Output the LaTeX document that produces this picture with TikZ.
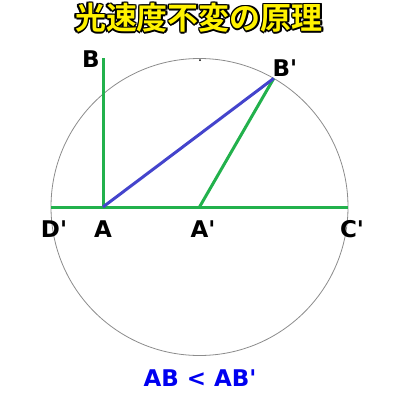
\documentclass[tikz,border=0pt]{standalone}
\usepackage{fontspec}
\setmainfont{DejaVu Sans}
\newfontfamily\jpfont{Noto Sans CJK JP}[BoldFont={* Bold}]
\usepackage{tikz}
\usetikzlibrary{positioning}
\usetikzlibrary{calc}
\usepackage{xcolor}
\definecolor{lgreen}{RGB}{34,177,76}
\definecolor{lblue}{RGB}{68,68,204}
\definecolor{tblue}{RGB}{0,0,240}
\definecolor{tyellow}{RGB}{255,242,0}
\newcommand\pr{\textquotesingle}
\newcommand\outlinetitle[2]{
  \foreach \dx/\dy in {-1.6/0,1.6/0,0/-1.6,0/1.6,-1.1/-1.1,1.1/1.1,-1.1/1.1,1.1/-1.1}{
    \node[black] at ([shift={(\dx,\dy)}]#1) {\jpfont\bfseries\fontsize{31}{31}\selectfont #2};
  }
  \node[tyellow] (title) at (#1) {\jpfont\bfseries\fontsize{31}{31}\selectfont #2};
}

\begin{document}
\begin{tikzpicture}[x=1pt, y=-1pt,
    lbl/.style={font=\bfseries\fontsize{23}{23}\selectfont, inner sep=0pt}]
				    		\useasboundingbox (0,0) rectangle (400,400);
				    		\coordinate (O) at (199.5,207);
				    		\coordinate (A) at (103,207);
				    		\coordinate (B) at (103,58);
				    		\coordinate (Bp) at ($(O)+(-60:148.5)$);
				    		\coordinate (Cp) at (348,207);
				    		\coordinate (Dp) at (51,207);
				    		\draw[gray!90, line width=0.8pt] (O) circle (148.5);
				    		\draw[lgreen, line width=3pt] (Dp)--(Cp);
				    		\draw[lgreen, line width=3pt] (A)--(B);
				    		\draw[lgreen, line width=3pt] (O)--(Bp);
				    		\draw[lblue, line width=3pt] (A)--(Bp);
							\fill[black] (200,60) circle (1);
							\node[lbl] (labB) at (91,59) {B};
							\node[lbl] (labBp) at (285,68) {B\pr};
							\node[lbl] (labDp) at (54,229) {D\pr};
							\node[lbl] (labA) at (103,229) {A};
							\node[lbl] (labAp) at (203,229) {A\pr};
							\node[lbl] (labCp) at (352,229) {C\pr};
							\node[lbl, tblue] (ineq) at (200,378) {AB < AB\pr};
							\coordinate (T) at (199,18);
							\outlinetitle{T}{光速度不変の原理}
				    	\end{tikzpicture}
\end{document}
